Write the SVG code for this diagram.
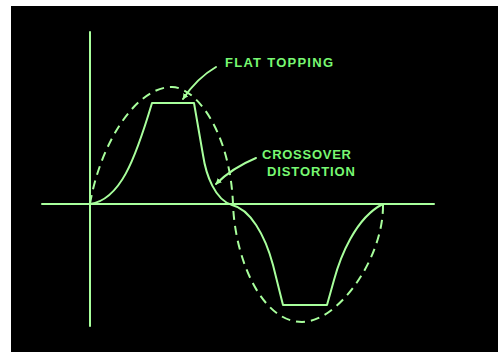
<svg xmlns="http://www.w3.org/2000/svg" width="498" height="352" viewBox="0 0 498 352">
  <style>
    .ln { fill: none; stroke: #a8ff9c; stroke-width: 2; stroke-linecap: round; stroke-linejoin: round; }
    .dash { stroke-dasharray: 9 6; stroke-linecap: butt; }
    .lbl { font-family: "Liberation Sans", Arial, sans-serif; font-size: 13px; font-weight: bold; fill: #78f872; }
  </style>
  <defs>
    <marker id="ah" viewBox="0 0 10 10" refX="9" refY="5" markerWidth="6" markerHeight="6" orient="auto" markerUnits="userSpaceOnUse">
      <path d="M0,0 L10,5 L0,10 Z" fill="#a8ff9c"/>
    </marker>
  </defs>
  <rect x="0" y="0" width="498" height="352" fill="#ffffff"/>
  <rect x="11" y="6" width="487" height="346" fill="#000000"/>

  <g id="axes">
    <line class="ln" x1="90" y1="32" x2="90" y2="326"/>
    <line class="ln" x1="42" y1="204" x2="434" y2="204"/>
  </g>

  <g id="ideal-sine">
    <path class="ln dash" d="M90,204 C100,145 135,87 172,87 C195,87 230,130 233,204 C235,260 262,322 302,322 C338,322 384,258 383,204"/>
  </g>

  <g id="distorted-wave">
    <path class="ln" d="M90,204 C120,200 135,160 152,103 L194,103 L203,155 C206,175 215,200 232,205 C250,209 265,235 273,265 L283,305 L327,305 L334,280 C340,258 355,218 383,204"/>
  </g>

  <g id="label-flat-topping">
    <text class="lbl" x="225" y="67" textLength="108" lengthAdjust="spacing">FLAT TOPPING</text>
  </g>

  <g id="label-crossover">
    <text class="lbl" x="262" y="159" textLength="89" lengthAdjust="spacing">CROSSOVER</text>
    <text class="lbl" x="267" y="176" textLength="88" lengthAdjust="spacing">DISTORTION</text>
  </g>

  <g id="connectors">
    <path class="ln" d="M216,67 Q197,78 183,99" marker-end="url(#ah)"/>
    <path class="ln" d="M256,158 Q232,168 216,184" marker-end="url(#ah)"/>
  </g>
</svg>
